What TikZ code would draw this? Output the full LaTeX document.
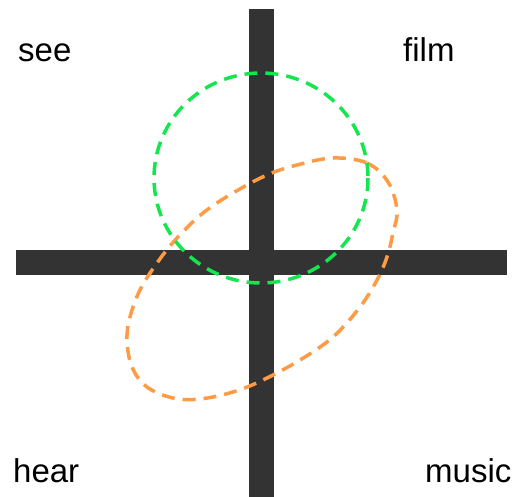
\documentclass[tikz,border=0pt]{standalone}
\usepackage{fontspec}
\setmainfont{Liberation Sans}
\definecolor{bar}{HTML}{333333}
\definecolor{seegreen}{HTML}{14E650}
\definecolor{hearorange}{HTML}{FF9A45}
\tikzset{
  word/.style={anchor=base west, inner sep=0pt, font=\fontsize{33}{40}\selectfont},
  loop/.style={line width=3.5pt, dash pattern=on 13pt off 8pt}
}
\begin{document}
\begin{tikzpicture}[x=1pt, y=-1pt]
  \useasboundingbox (0,0) rectangle (514,497);
  % axes
  \fill[bar] (249,9) rectangle (274,497);
  \fill[bar] (16,249.5) rectangle (507,274.5);
  % dashed loops
  \draw[loop, hearorange] plot[smooth cycle, tension=0.6] coordinates {
    (333,158) (367,163) (388,182) (397,210) (393,233) (387,257) (377,280)
    (360,307) (333,337) (300,360) (263,380) (233,392) (200,399) (173,398)
    (147,387) (132,367) (127,340) (130,317) (140,290) (157,263) (177,238)
    (203,213) (233,193) (267,175) (297,165)};
  \draw[loop, seegreen] (261,178) ellipse [x radius=107, y radius=105];
  % words
  \node[word] (see) at (18,62) {see};
  \node[word] (film) at (403,62) {film};
  \node[word] (hear) at (13,482) {hear};
  \node[word] (music) at (425,482) {music};
\end{tikzpicture}
\end{document}
